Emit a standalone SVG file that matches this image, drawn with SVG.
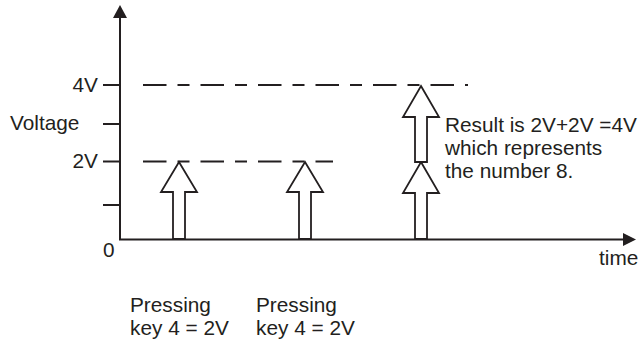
<svg xmlns="http://www.w3.org/2000/svg" width="643" height="342" viewBox="0 0 643 342">
<style>
text{font-family:"Liberation Sans",Arial,sans-serif;font-size:20.8px;fill:#231f20}
.ax{stroke:#231f20;stroke-width:2;fill:none}
.dash{stroke:#231f20;stroke-width:2;fill:none;stroke-dasharray:23.5 11 12 11}
.blk{fill:#fff;stroke:#231f20;stroke-width:1.8;stroke-linejoin:miter}
.head{fill:#231f20;stroke:none}
</style>
<rect width="643" height="342" fill="#fff"/>
<g id="connectors">
<line class="dash" x1="143" y1="85" x2="468" y2="85"/>
<line class="dash" x1="143" y1="161.5" x2="333" y2="161.5"/>
<line class="ax" x1="120" y1="16" x2="120" y2="240"/>
<line class="ax" x1="119" y1="239.5" x2="625" y2="239.5"/>
<polygon class="head" points="120,5 127,18 113,18"/>
<polygon class="head" points="636,239.5 623,233 623,246"/>
<line class="ax" x1="103" y1="85" x2="120" y2="85"/>
<line class="ax" x1="103" y1="124" x2="120" y2="124"/>
<line class="ax" x1="103" y1="161.5" x2="120" y2="161.5"/>
<line class="ax" x1="103" y1="205" x2="120" y2="205"/>
</g>
<g id="press1">
<polygon class="blk" points="179,162 197,192 185,192 185,239 173,239 173,192 161,192"/>
</g>
<g id="press2">
<polygon class="blk" points="305,162 323,192 311,192 311,239 299,239 299,192 287,192"/>
</g>
<g id="result-lower">
<polygon class="blk" points="421,162 439,193 427,193 427,239 415,239 415,193 403,193"/>
</g>
<g id="result-upper">
<polygon class="blk" points="421,86 439,117 427,117 427,162 415,162 415,117 403,117"/>
</g>
<g id="labels">
<text x="98" y="92" text-anchor="end">4V</text>
<text x="10" y="130">Voltage</text>
<text x="98" y="168" text-anchor="end">2V</text>
<text x="103" y="257">0</text>
<text x="599" y="265">time</text>
<text x="445" y="132">Result is 2V+2V =4V</text>
<text x="445" y="155">which represents</text>
<text x="445" y="178">the number 8.</text>
<text x="130" y="312">Pressing</text>
<text x="130" y="335">key 4 = 2V</text>
<text x="256" y="312">Pressing</text>
<text x="256" y="335">key 4 = 2V</text>
</g>
</svg>
